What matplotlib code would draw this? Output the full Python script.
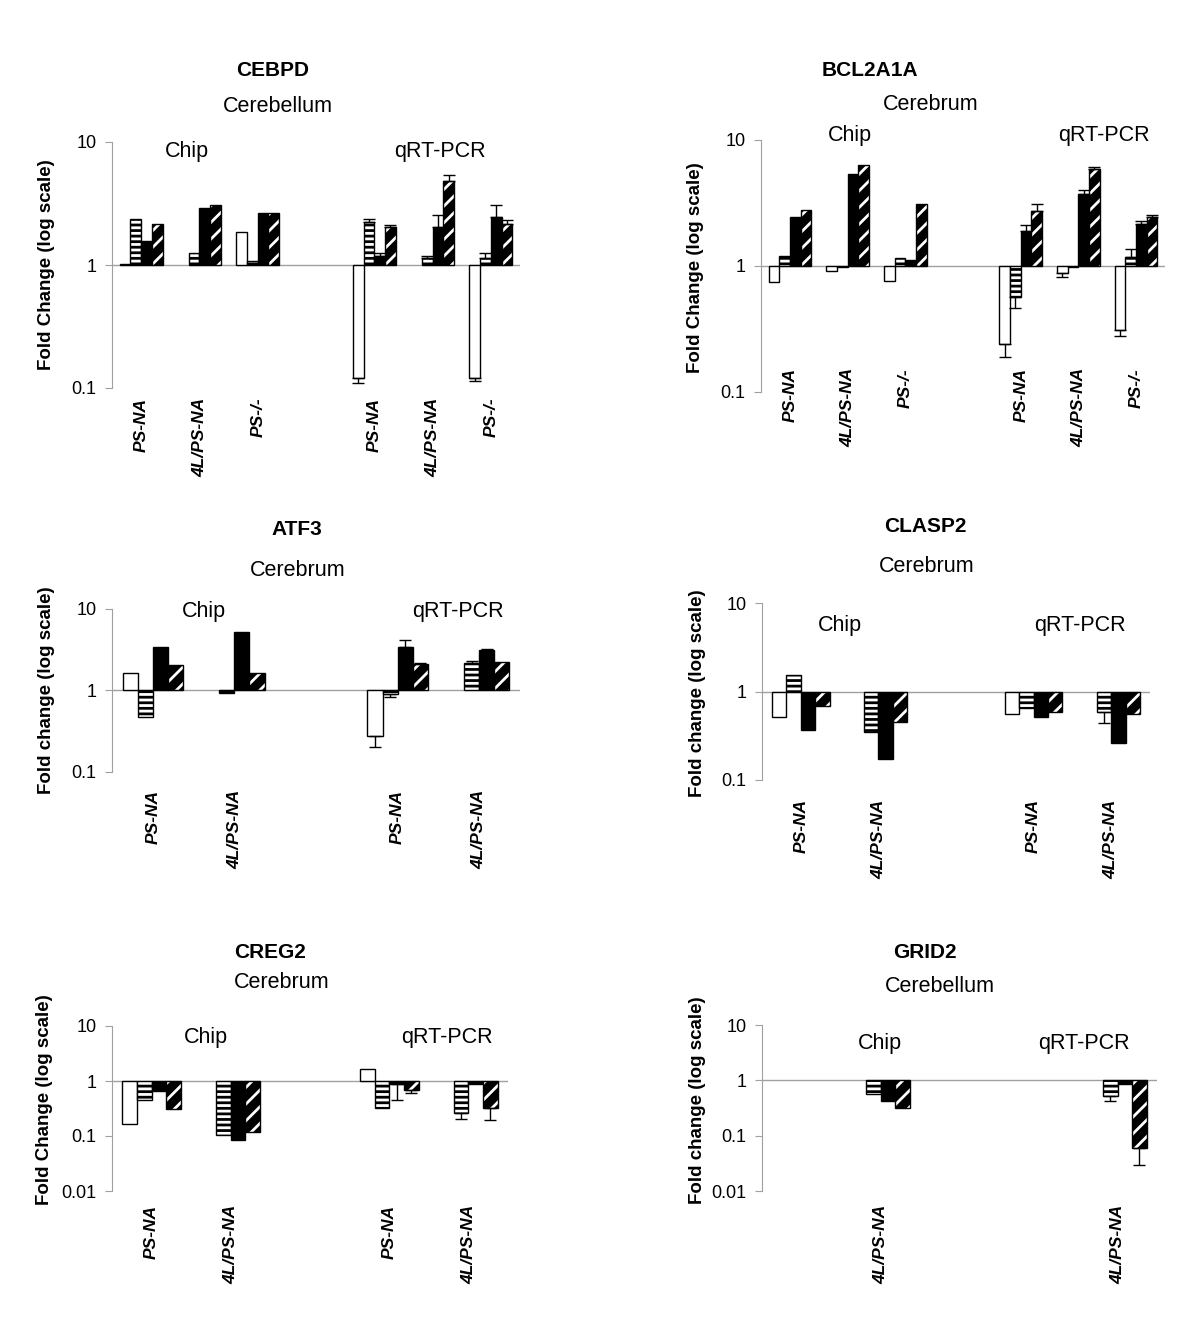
import numpy as np
import matplotlib
matplotlib.use('Agg')
import matplotlib.pyplot as plt
import matplotlib.transforms as mtransforms

plt.rcParams['font.family'] = ['Liberation Sans', 'DejaVu Sans']
plt.rcParams['hatch.linewidth'] = 2.0

nan = np.nan
W, H = 1200, 1340

# ---- data (fold change, 1 = no change); nan = empty slot / not drawn ----
cebpd_labels = ['PS-NA', '4L/PS-NA', 'PS-/-', '', 'PS-NA', '4L/PS-NA', 'PS-/-']
cebpd_white = [1.01, nan, 1.85, nan, 0.121, nan, 0.12]
cebpd_horiz = [2.37, 1.26, 1.08, nan, 2.24, 1.13, 1.13]
cebpd_black = [1.57, 2.88, 2.65, nan, 1.19, 2.04, 2.46]
cebpd_diag = [2.16, 3.08, 2.65, nan, 2.02, 4.82, 2.16]
cebpd_white_err = [nan, nan, nan, nan, 0.11, nan, 0.115]
cebpd_horiz_err = [nan, nan, nan, nan, 2.37, 1.19, 1.25]
cebpd_black_err = [nan, nan, nan, nan, 1.25, 2.54, 3.1]
cebpd_diag_err = [nan, nan, nan, nan, 2.13, 5.37, 2.31]

bcl_labels = ['PS-NA', '4L/PS-NA', 'PS-/-', '', 'PS-NA', '4L/PS-NA', 'PS-/-']
bcl_white = [0.746, 0.91, 0.76, nan, 0.239, 0.886, 0.31]
bcl_horiz = [1.2, 0.98, 1.15, nan, 0.568, 0.98, 1.17]
bcl_black = [2.47, 5.34, 1.12, nan, 1.9, 3.7, 2.17]
bcl_diag = [2.77, 6.33, 3.13, nan, 2.73, 5.85, 2.45]
bcl_white_err = [nan, nan, nan, nan, 0.19, 0.82, 0.28]
bcl_horiz_err = [nan, nan, nan, nan, 0.467, nan, 1.36]
bcl_black_err = [nan, nan, nan, nan, 2.12, 4.0, 2.28]
bcl_diag_err = [nan, nan, nan, nan, 3.13, 6.1, 2.55]

atf3_labels = ['PS-NA', '4L/PS-NA', '', 'PS-NA', '4L/PS-NA']
atf3_white = [1.65, nan, nan, 0.273, nan]
atf3_horiz = [0.47, 0.93, nan, 0.91, 2.2]
atf3_black = [3.42, 5.25, nan, 3.42, 3.12]
atf3_diag = [2.03, 1.65, nan, 2.13, 2.24]
atf3_white_err = [nan, nan, nan, 0.2, nan]
atf3_horiz_err = [nan, nan, nan, 0.84, 2.28]
atf3_black_err = [nan, nan, nan, 4.14, 3.2]
atf3_diag_err = [nan, nan, nan, 2.2, nan]

clasp_labels = ['PS-NA', '4L/PS-NA', '', 'PS-NA', '4L/PS-NA']
clasp_white = [0.513, nan, nan, 0.56, nan]
clasp_horiz = [1.55, 0.347, nan, 0.65, 0.58]
clasp_black = [0.368, 0.173, nan, 0.51, 0.26]
clasp_diag = [0.69, 0.457, nan, 0.58, 0.555]
clasp_white_err = [nan, nan, nan, nan, nan]
clasp_horiz_err = [nan, nan, nan, nan, 0.44]
clasp_black_err = [nan, nan, nan, nan, nan]
clasp_diag_err = [nan, nan, nan, nan, nan]

creg_labels = ['PS-NA', '4L/PS-NA', '', 'PS-NA', '4L/PS-NA']
creg_white = [0.163, nan, nan, 1.63, nan]
creg_horiz = [0.46, 0.105, nan, 0.32, 0.262]
creg_black = [0.66, 0.085, nan, 0.87, 0.88]
creg_diag = [0.305, 0.118, nan, 0.7, 0.32]
creg_white_err = [nan, nan, nan, nan, nan]
creg_horiz_err = [nan, nan, nan, nan, 0.207]
creg_black_err = [nan, nan, nan, 0.46, nan]
creg_diag_err = [nan, nan, nan, 0.6, 0.193]

grid_labels = ['', '4L/PS-NA', '', '', '4L/PS-NA']
grid_white = [nan, nan, nan, nan, nan]
grid_horiz = [nan, 0.57, nan, nan, 0.53]
grid_black = [nan, 0.43, nan, nan, 0.87]
grid_diag = [nan, 0.315, nan, nan, 0.059]
grid_white_err = [nan, nan, nan, nan, nan]
grid_horiz_err = [nan, nan, nan, nan, 0.415]
grid_black_err = [nan, nan, nan, nan, nan]
grid_diag_err = [nan, nan, nan, nan, 0.03]

fig = plt.figure(figsize=(12, 13.4), dpi=100)


def ftext(x, y, s, **kw):
    # place text at pixel position of the 1200x1340 canvas
    fig.text(x / W, 1 - y / H, s, ha='center', va='center', **kw)


def panel(rect, labels, series, errs, ylim, lab_y):
    left, right, top, bottom = rect
    ax = fig.add_axes([left / W, 1 - bottom / H, (right - left) / W, (bottom - top) / H])
    n = len(labels)
    x = np.arange(n)
    w = 0.185
    offs = np.array([-1.5, -0.5, 0.5, 1.5]) * w
    white, horiz, black, diag = [np.array(s, dtype=float) for s in series]
    ax.bar(x + offs[0], white - 1, w, bottom=1, facecolor='white', edgecolor='black', lw=1, zorder=2)
    ax.bar(x + offs[1], horiz - 1, w, bottom=1, facecolor='white', edgecolor='black', lw=1,
           hatch='---', zorder=2)
    ax.bar(x + offs[2], black - 1, w, bottom=1, facecolor='black', edgecolor='black', lw=1, zorder=2)
    ax.bar(x + offs[3], diag - 1, w, bottom=1, facecolor='black', edgecolor='white', lw=0,
           hatch='//', zorder=2)
    ax.bar(x + offs[3], diag - 1, w, bottom=1, fill=False, edgecolor='black', lw=1, zorder=3)

    for k, (vals, e) in enumerate(zip([white, horiz, black, diag], errs)):
        e = np.array(e, dtype=float)
        for i in range(n):
            if np.isnan(e[i]):
                continue
            v = vals[i]
            lo, hi = (v - e[i], 0) if e[i] < v else (0, e[i] - v)
            ax.errorbar(x[i] + offs[k], v, yerr=[[lo], [hi]], fmt='none', ecolor='black',
                        elinewidth=1, capsize=4, capthick=1, zorder=4)

    ax.axhline(1, color='#a0a0a0', lw=1, zorder=1)
    ax.set_yscale('log')
    ax.set_ylim(*ylim)
    ax.set_xlim(-0.5, n - 0.5)
    ticks = [t for t in [0.01, 0.1, 1, 10] if ylim[0] <= t <= ylim[1]]
    ax.set_yticks(ticks)
    ax.set_yticklabels(['%g' % t for t in ticks], fontsize=13)
    ax.yaxis.set_minor_locator(matplotlib.ticker.NullLocator())
    ax.tick_params(axis='y', direction='out', length=5, color='#a0a0a0', pad=6)
    ax.set_xticks([])
    for s in ['top', 'right', 'bottom']:
        ax.spines[s].set_visible(False)
    ax.spines['left'].set_color('#a0a0a0')
    ax.patch.set_alpha(0)

    trans = mtransforms.blended_transform_factory(ax.transData, ax.transAxes)
    for i, lab in enumerate(labels):
        if lab:
            ax.text(x[i], lab_y, lab, transform=trans, rotation=90, ha='center', va='top',
                    fontsize=12.5, fontweight='bold', fontstyle='italic', clip_on=False)
    return ax


# CEBPD
panel((112, 520, 142, 388), cebpd_labels,
      [cebpd_white, cebpd_horiz, cebpd_black, cebpd_diag],
      [cebpd_white_err, cebpd_horiz_err, cebpd_black_err, cebpd_diag_err], (0.1, 10), -0.04)
ftext(273, 70, 'CEBPD', fontsize=15, fontweight='bold')
ftext(278, 107, 'Cerebellum', fontsize=15.5)
ftext(187, 151, 'Chip', fontsize=15.5)
ftext(440, 151, 'qRT-PCR', fontsize=15.5)
ftext(47, 265, 'Fold Change (log scale)', fontsize=13.5, fontweight='bold', rotation=90)

# BCL2A1A
panel((761, 1165, 140, 392), bcl_labels,
      [bcl_white, bcl_horiz, bcl_black, bcl_diag],
      [bcl_white_err, bcl_horiz_err, bcl_black_err, bcl_diag_err], (0.1, 10), 0.095)
ftext(870, 70, 'BCL2A1A', fontsize=15, fontweight='bold')
ftext(931, 104, 'Cerebrum', fontsize=15.5)
ftext(850, 135, 'Chip', fontsize=15.5)
ftext(1104, 135, 'qRT-PCR', fontsize=15.5)
ftext(695, 268, 'Fold Change (log scale)', fontsize=13.5, fontweight='bold', rotation=90)

# ATF3
panel((112, 520, 609, 772), atf3_labels,
      [atf3_white, atf3_horiz, atf3_black, atf3_diag],
      [atf3_white_err, atf3_horiz_err, atf3_black_err, atf3_diag_err], (0.1, 10), -0.11)
ftext(297, 530, 'ATF3', fontsize=15, fontweight='bold')
ftext(298, 570, 'Cerebrum', fontsize=15.5)
ftext(204, 611, 'Chip', fontsize=15.5)
ftext(458, 611, 'qRT-PCR', fontsize=15.5)
ftext(47, 690, 'Fold change (log scale)', fontsize=13.5, fontweight='bold', rotation=90)

# CLASP2
panel((762, 1150, 603, 780), clasp_labels,
      [clasp_white, clasp_horiz, clasp_black, clasp_diag],
      [clasp_white_err, clasp_horiz_err, clasp_black_err, clasp_diag_err], (0.1, 10), -0.11)
ftext(925, 527, 'CLASP2', fontsize=15, fontweight='bold')
ftext(927, 567, 'Cerebrum', fontsize=15.5)
ftext(840, 625, 'Chip', fontsize=15.5)
ftext(1080, 625, 'qRT-PCR', fontsize=15.5)
ftext(697, 693, 'Fold change (log scale)', fontsize=13.5, fontweight='bold', rotation=90)

# CREG2
panel((112, 508, 1026, 1191), creg_labels,
      [creg_white, creg_horiz, creg_black, creg_diag],
      [creg_white_err, creg_horiz_err, creg_black_err, creg_diag_err], (0.01, 10), -0.085)
ftext(270, 953, 'CREG2', fontsize=15, fontweight='bold')
ftext(282, 983, 'Cerebrum', fontsize=15.5)
ftext(206, 1037, 'Chip', fontsize=15.5)
ftext(447, 1037, 'qRT-PCR', fontsize=15.5)
ftext(45, 1100, 'Fold Change (log scale)', fontsize=13.5, fontweight='bold', rotation=90)

# GRID2
panel((762, 1157, 1025, 1191), grid_labels,
      [grid_white, grid_horiz, grid_black, grid_diag],
      [grid_white_err, grid_horiz_err, grid_black_err, grid_diag_err], (0.01, 10), -0.085)
ftext(925, 953, 'GRID2', fontsize=15, fontweight='bold')
ftext(940, 986, 'Cerebellum', fontsize=15.5)
ftext(880, 1044, 'Chip', fontsize=15.5)
ftext(1084, 1044, 'qRT-PCR', fontsize=15.5)
ftext(697, 1100, 'Fold change (log scale)', fontsize=13.5, fontweight='bold', rotation=90)

plt.savefig('out.png', dpi=100)
